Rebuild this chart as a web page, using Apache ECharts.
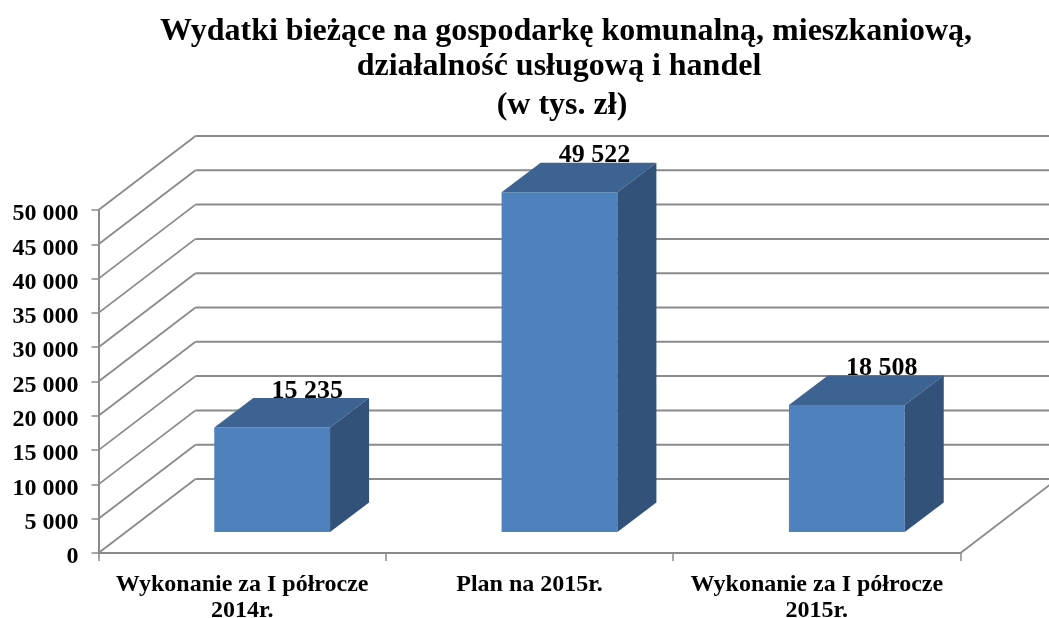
<!DOCTYPE html>
<html><head><meta charset="utf-8">
<style>html,body{margin:0;padding:0;background:#fff}#c{width:1049px;height:618px}</style>
<script src="https://cdn.jsdelivr.net/npm/echarts@6/dist/echarts.min.js"></script>
</head><body><div id="c"></div>
<script>
const titleLines = ['Wydatki bieżące na gospodarkę komunalną, mieszkaniową,', 'działalność usługową i handel', '(w tys. zł)'];
const categories = ['Wykonanie za I półrocze\n2014r.', 'Plan na 2015r.', 'Wykonanie za I półrocze\n2015r.'];
const values = [15235, 49522, 18508];
const yTicks = [0, 5000, 10000, 15000, 20000, 25000, 30000, 35000, 40000, 45000, 50000];

const FONT = '"Liberation Serif", serif';
const WALL_DX = 97, WALL_DY = -74;
const BAR_DX = 39, BAR_DY = -29.5, BAR_SHIFT_X = 30, BAR_SHIFT_Y = -21;
const LINE = '#8a8a8a';
const fmt = v => String(v).replace(/\B(?=(\d{3})+$)/g, ' ');

const chart = echarts.init(document.getElementById('c'), null, {renderer: 'canvas'});
chart.setOption({
  animation: false,
  backgroundColor: '#fff',
  title: [
    {text: titleLines[0], left: 561, top: 11, textAlign: 'center'},
    {text: titleLines[1], left: 554, top: 46, textAlign: 'center'},
    {text: titleLines[2], left: 557, top: 85, textAlign: 'center'}
  ].map(t => Object.assign(t, {textStyle: {fontFamily: FONT, fontWeight: 'bold', fontSize: 32, color: '#000'}})),
  grid: {left: 98.5, right: 88.5, top: 210, bottom: 65, outerBoundsMode: 'none'},
  xAxis: {
    type: 'category', data: categories,
    axisLine: {lineStyle: {color: LINE, width: 2}},
    axisTick: {show: true, length: 8, alignWithLabel: false, lineStyle: {color: LINE, width: 1.5}},
    axisLabel: {color: '#000', fontFamily: FONT, fontWeight: 'bold', fontSize: 24, lineHeight: 26, margin: 19, interval: 0}
  },
  yAxis: {
    type: 'value', min: 0, max: 50000, interval: 5000,
    axisLine: {show: true, lineStyle: {color: LINE, width: 2}},
    axisTick: {show: true, length: 7, lineStyle: {color: LINE, width: 1.5}},
    splitLine: {show: false},
    axisLabel: {color: '#000', fontFamily: FONT, fontWeight: 'bold', fontSize: 24, margin: 20, verticalAlign: 'top', lineHeight: 8, formatter: fmt}
  },
  series: [
    {
      type: 'custom', clip: false, z: 1, silent: true,
      data: yTicks.map(v => [0, v]),
      renderItem(params, api) {
        const cs = params.coordSys;
        const y = api.coord([0, api.value(1)])[1];
        const x0 = cs.x, x1 = cs.x + cs.width;
        const children = [
          {type: 'line', shape: {x1: x0, y1: y, x2: x0 + WALL_DX, y2: y + WALL_DY},
           style: {stroke: LINE, lineWidth: 1.8}},
          {type: 'line', shape: {x1: x0 + WALL_DX, y1: y + WALL_DY, x2: x1 + WALL_DX, y2: y + WALL_DY},
           style: {stroke: LINE, lineWidth: 2}}
        ];
        if (api.value(1) === 0) {
          children.push({
            type: 'line',
            shape: {x1: x1, y1: y, x2: x1 + WALL_DX, y2: y + WALL_DY},
            style: {stroke: LINE, lineWidth: 1.8}
          });
        }
        return {type: 'group', children};
      }
    },
    {
      type: 'custom', clip: false, z: 3, silent: true,
      data: values.map((v, i) => [i, v]),
      renderItem(params, api) {
        const p = api.coord([api.value(0), api.value(1)]);
        const base = api.coord([api.value(0), 0]);
        const w = api.size([1, 0])[0] * 0.403;
        const xl = p[0] + BAR_SHIFT_X - w / 2, xr = xl + w;
        const yb = base[1] + BAR_SHIFT_Y, yt = p[1] + BAR_SHIFT_Y;
        return {type: 'group', children: [
          {type: 'text', style: {
            text: fmt(api.value(1)), x: (xl + xr) / 2 + 35, y: yt + BAR_DY + 6,
            align: 'center', verticalAlign: 'bottom',
            font: 'bold 26px ' + FONT, fill: '#000'}},
          {type: 'rect', shape: {x: xl, y: yt, width: w, height: yb - yt}, style: {fill: '#4F81BD'}},
          {type: 'polygon', shape: {points: [[xl, yt], [xr, yt], [xr + BAR_DX, yt + BAR_DY], [xl + BAR_DX, yt + BAR_DY]]}, style: {fill: '#3D6392'}},
          {type: 'polygon', shape: {points: [[xr, yt], [xr + BAR_DX, yt + BAR_DY], [xr + BAR_DX, yb + BAR_DY], [xr, yb]]}, style: {fill: '#325279'}}
        ]};
      }
    }
  ]
});
</script></body></html>
